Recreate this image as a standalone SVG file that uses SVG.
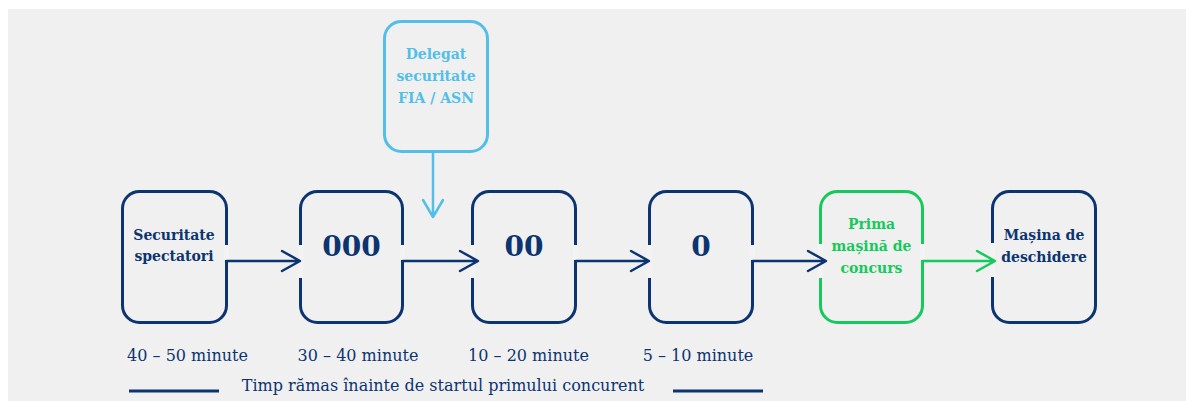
<svg xmlns="http://www.w3.org/2000/svg" width="1186" height="401" viewBox="0 0 1186 401">
<style>
.box{fill:none;stroke-width:3}
.navy{stroke:#0c3470}
.sky{stroke:#52bfe8}
.grn{stroke:#15c95c}
.t{font-family:"DejaVu Serif","Liberation Serif",serif;font-weight:bold;font-size:14px;text-anchor:middle}
.big{font-size:28px}
.tn{fill:#0c3470}
.ts{fill:#52bfe8}
.tg{fill:#15c95c}
.time{font-family:"DejaVu Serif","Liberation Serif",serif;font-size:16px;fill:#0c3470;text-anchor:middle}
.gap{fill:#f3f3f3}
.con{fill:none;stroke-width:2.5;stroke-linecap:round;stroke-linejoin:round}
</style>
<rect x="0" y="0" width="1186" height="401" fill="#ffffff"/>
<rect x="8" y="9" width="1178" height="392" fill="#f0f0f0"/>

<g id="node-securitate">
<rect class="box navy" x="122.5" y="191.5" width="104" height="131" rx="17"/>
<rect class="gap" x="224" y="245" width="5" height="15"/>
<text class="t tn" x="174" y="240">Securitate</text>
<text class="t tn" x="174" y="261">spectatori</text>
</g>

<g id="node-000">
<rect class="box navy" x="300.5" y="191.5" width="102" height="131" rx="17"/>
<rect class="gap" x="298" y="245" width="5" height="33"/>
<rect class="gap" x="400" y="245" width="5" height="15"/>
<text class="t tn big" x="351.5" y="256">000</text>
</g>

<g id="node-00">
<rect class="box navy" x="472.5" y="191.5" width="103" height="131" rx="17"/>
<rect class="gap" x="470" y="245" width="5" height="33"/>
<rect class="gap" x="573" y="245" width="5" height="15"/>
<text class="t tn big" x="524" y="256">00</text>
</g>

<g id="node-0">
<rect class="box navy" x="649.5" y="191.5" width="103" height="131" rx="17"/>
<rect class="gap" x="647" y="245" width="5" height="33"/>
<rect class="gap" x="750" y="245" width="5" height="15"/>
<text class="t tn big" x="701" y="256">0</text>
</g>

<g id="node-prima">
<rect class="box grn" x="820.5" y="191.5" width="102" height="131" rx="17"/>
<rect class="gap" x="818" y="244" width="5" height="34"/>
<rect class="gap" x="920" y="244" width="5" height="16"/>
<text class="t tg" x="871.5" y="229">Prima</text>
<text class="t tg" x="871.5" y="251">mașină de</text>
<text class="t tg" x="871.5" y="273">concurs</text>
</g>

<g id="node-deschidere">
<rect class="box navy" x="992.5" y="191.5" width="103" height="131" rx="17"/>
<rect class="gap" x="990" y="243" width="5" height="34"/>
<text class="t tn" x="1044" y="240">Mașina de</text>
<text class="t tn" x="1044" y="262">deschidere</text>
</g>

<g id="node-delegat">
<rect class="box sky" x="384.5" y="21.5" width="103" height="130" rx="17"/>
<text class="t ts" x="436" y="59">Delegat</text>
<text class="t ts" x="436" y="81">securitate</text>
<text class="t ts" x="436" y="103">FIA / ASN</text>
</g>

<g id="connectors">
<path class="con navy" d="M227 261H299M282 251L300 261L282 271"/>
<path class="con navy" d="M403 261H477M460 251L478 261L460 271"/>
<path class="con navy" d="M576 261H648M631 251L649 261L631 271"/>
<path class="con navy" d="M753 261H825M808 251L826 261L808 271"/>
<path class="con grn" d="M923 261H994M977 251L995 261L977 271"/>
<path class="con sky" d="M433 152V217M423 200L433 217L443 200"/>
</g>

<g id="timeline">
<text class="time" x="187.5" y="361">40 – 50 minute</text>
<text class="time" x="358" y="361">30 – 40 minute</text>
<text class="time" x="528.5" y="361">10 – 20 minute</text>
<text class="time" x="698" y="361">5 – 10 minute</text>
<line x1="129" y1="391" x2="219" y2="391" stroke="#0c3470" stroke-width="3"/>
<line x1="673" y1="391" x2="763" y2="391" stroke="#0c3470" stroke-width="3"/>
<text class="time" x="443" y="391">Timp rămas înainte de startul primului concurent</text>
</g>
</svg>
